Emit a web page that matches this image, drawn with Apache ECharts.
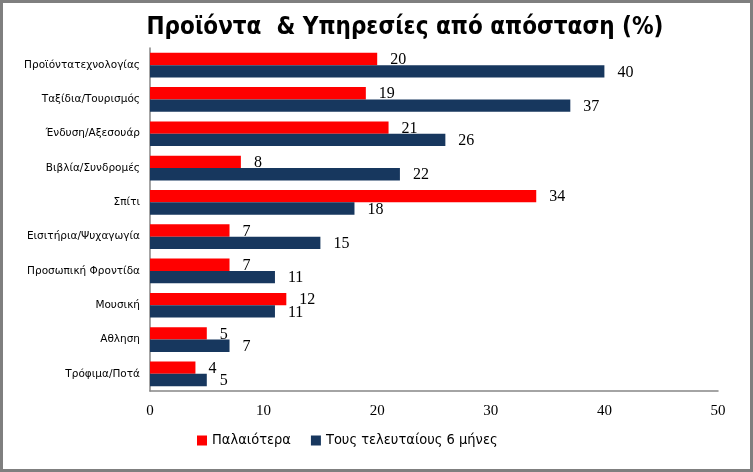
<!DOCTYPE html>
<html><head><meta charset="utf-8">
<script src="https://cdn.jsdelivr.net/npm/echarts@6/dist/echarts.min.js"></script>
<style>html,body{margin:0;padding:0;background:#fff}#c{width:753px;height:472px}</style>
</head><body><div id="c"></div>
<script>
const categories = ["Προϊόντατεχνολογίας","Ταξίδια/Τουρισμός","Ένδυση/Αξεσουάρ","Βιβλία/Συνδρομές","Σπίτι","Εισιτήρια/Ψυχαγωγία","Προσωπική Φροντίδα","Μουσική","Αθληση","Τρόφιμα/Ποτά"];
const seriesNames = ["Παλαιότερα","Τους τελευταίους 6 μήνες"];
const earlier = [20,19,21,8,34,7,7,12,5,4];
const last6 = [40,37,26,22,18,15,11,11,7,5];
const titleText = "Προϊόντα  & Υπηρεσίες από απόσταση (%)";

const narrow = "'Liberation Sans Narrow','Arial Narrow','DejaVu Sans Condensed',sans-serif";
const chart = echarts.init(document.getElementById('c'));
const lbl = {show:true, position:'right', distance:13, color:'#000', fontFamily:'Liberation Serif', fontSize:16, offset:[0,1]};
chart.setOption({
  animation:false,
  graphic:[{type:'rect', shape:{x:1.5,y:1.5,width:750,height:469}, style:{fill:null, stroke:'#7f7f7f', lineWidth:3}, z:100}],
  title:{text:titleText, left:400, textAlign:'center', top:11, textStyle:{fontFamily:narrow, fontWeight:'bold', fontSize:24, color:'#000'}},
  legend:{bottom:19, left:192, itemWidth:10, itemHeight:10, itemGap:20, icon:'rect',
    textStyle:{fontFamily:narrow, fontSize:14.5, color:'#000'}},
  grid:{left:150, top:48, right:35, bottom:81},
  xAxis:{type:'value', min:0, max:50, interval:10,
    axisLine:{show:true, lineStyle:{color:'#868686', width:1.5}}, axisTick:{show:false}, splitLine:{show:false},
    axisLabel:{margin:13, color:'#000', fontFamily:'Liberation Serif', fontSize:15}},
  yAxis:{type:'category', data:categories, inverse:true,
    axisLine:{show:true, lineStyle:{color:'#868686', width:1.5}}, axisTick:{show:false},
    axisLabel:{margin:10, color:'#000', fontFamily:'DejaVu Sans', fontSize:10.5}},
  series:[
    {name:seriesNames[0], type:'bar', data:earlier, itemStyle:{color:'#FF0000'}, barGap:'0%', barCategoryGap:'28%', label:lbl},
    {name:seriesNames[1], type:'bar', data:last6, itemStyle:{color:'#17375E'}, barGap:'0%', barCategoryGap:'28%', label:lbl}
  ]
});
</script></body></html>
